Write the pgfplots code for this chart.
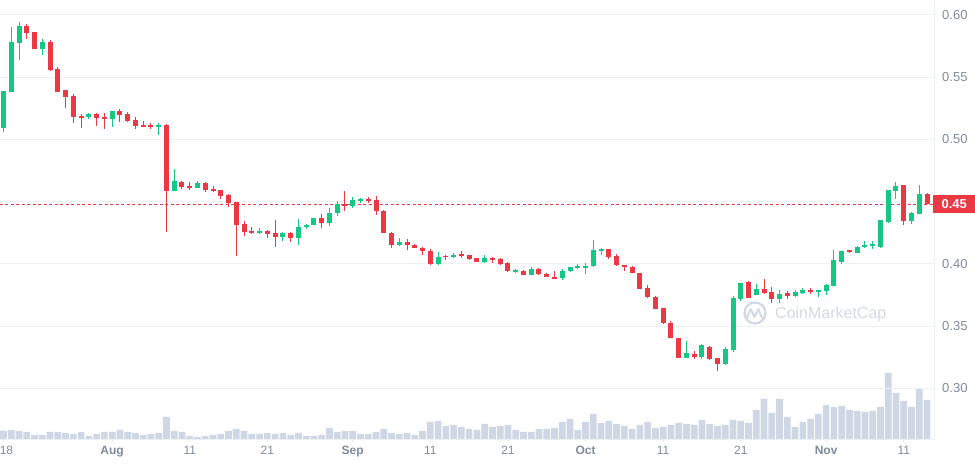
\documentclass[border=0pt]{standalone}
\usepackage{pgfplots}
\pgfplotsset{compat=1.18}
\usepackage{pgfplotstable}
\usepackage{fontspec}
\setmainfont{Liberation Sans}
\definecolor{cmcgreen}{HTML}{16C784}
\definecolor{cmcred}{HTML}{EA3943}
\definecolor{volcol}{HTML}{CFD6E4}
\definecolor{gridcol}{HTML}{EEF1F4}
\definecolor{labcol}{HTML}{808A9D}
\definecolor{wmcol}{HTML}{D3D9E3}

\pgfplotstableread{
d o h l c v
0 0.509 0.539 0.506 0.5386 8.7
1 0.538 0.590 0.538 0.578 9.3
2 0.5775 0.594 0.564 0.591 8.3
3 0.591 0.5925 0.5807 0.5855 7.3
4 0.586 0.586 0.5727 0.5727 4.3
5 0.5727 0.5804 0.5678 0.578 4.3
6 0.578 0.5796 0.555 0.5558 7.3
7 0.5563 0.558 0.538 0.538 7.3
8 0.5394 0.5394 0.5252 0.534 6.3
9 0.5346 0.5362 0.5131 0.518 5.3
10 0.5185 0.520 0.509 0.518 7.3
11 0.518 0.5212 0.5164 0.520 3.3
12 0.520 0.521 0.5107 0.5172 5.3
13 0.518 0.521 0.5086 0.5164 7.3
14 0.5164 0.5225 0.510 0.5225 7.3
15 0.5225 0.5241 0.514 0.5196 9.3
16 0.520 0.5217 0.514 0.5147 7.3
17 0.5153 0.5177 0.5086 0.5107 6.3
18 0.5115 0.5145 0.510 0.5105 4.3
19 0.5115 0.513 0.5086 0.510 5.3
20 0.510 0.513 0.5035 0.5115 6.3
21 0.5115 0.5123 0.4255 0.4584 22.3
22 0.4588 0.4762 0.4588 0.4666 8.3
23 0.4658 0.4666 0.4604 0.4618 7.3
24 0.4626 0.4658 0.4596 0.461 3.3
25 0.461 0.4666 0.461 0.465 2.3
26 0.465 0.4658 0.458 0.4596 3.3
27 0.4604 0.4626 0.458 0.4588 4.3
28 0.4594 0.4594 0.4524 0.4548 5.3
29 0.4554 0.4562 0.446 0.4492 8.3
30 0.4497 0.4497 0.4067 0.4316 10.3
31 0.4321 0.4345 0.4227 0.4259 8.3
32 0.4265 0.4297 0.4241 0.4249 5.3
33 0.425 0.429 0.4238 0.4265 5.3
34 0.4265 0.4273 0.4211 0.4243 6.3
35 0.4249 0.4353 0.4139 0.4219 5.3
36 0.4219 0.4257 0.4187 0.4249 6.3
37 0.4249 0.4257 0.4179 0.4211 4.3
38 0.4211 0.4361 0.4155 0.4297 6.3
39 0.4294 0.4324 0.4278 0.4316 3.3
40 0.431 0.4372 0.431 0.4372 3.3
41 0.4372 0.4404 0.4286 0.4326 4.3
42 0.4326 0.4452 0.4302 0.4412 11.3
43 0.4406 0.4508 0.4382 0.4484 7.3
44 0.4484 0.4588 0.4422 0.4463 8.3
45 0.4463 0.454 0.4447 0.4516 8.3
46 0.4508 0.4532 0.4492 0.4524 5.3
47 0.4524 0.454 0.4492 0.4508 5.3
48 0.4516 0.4548 0.439 0.4422 7.3
49 0.4428 0.4436 0.4246 0.4246 10.3
50 0.4251 0.4259 0.4126 0.415 6.3
51 0.415 0.4211 0.4142 0.4179 5.3
52 0.4179 0.4203 0.411 0.415 6.3
53 0.4155 0.4163 0.4126 0.4126 4.3
54 0.4131 0.4139 0.407 0.4102 8.3
55 0.4107 0.4118 0.3989 0.3997 17.3
56 0.3997 0.4099 0.3989 0.4059 18.3
57 0.4064 0.4075 0.4029 0.4059 13.3
58 0.4054 0.4091 0.4045 0.4075 14.3
59 0.4075 0.4107 0.4045 0.407 12.3
60 0.4072 0.4072 0.4032 0.404 10.3
61 0.4048 0.4048 0.4016 0.4016 9.3
62 0.4016 0.4072 0.4008 0.4048 15.3
63 0.4048 0.4056 0.4008 0.4032 12.3
64 0.404 0.4048 0.3992 0.400 13.3
65 0.4008 0.4016 0.3931 0.3939 14.3
66 0.3939 0.396 0.3928 0.3947 9.3
67 0.3944 0.3952 0.3907 0.3907 7.3
68 0.3907 0.3976 0.3907 0.396 7.3
69 0.396 0.3968 0.3907 0.3915 10.3
70 0.392 0.3928 0.3891 0.3891 10.3
71 0.3897 0.3944 0.3875 0.3883 11.3
72 0.3883 0.396 0.3867 0.3944 17.3
73 0.3939 0.3976 0.3931 0.3976 20.3
74 0.3971 0.3995 0.396 0.3981 9.3
75 0.3973 0.4008 0.3915 0.3984 17.3
76 0.3979 0.4191 0.3971 0.4111 25.3
77 0.4106 0.4127 0.4074 0.4119 16.3
78 0.4119 0.4119 0.4042 0.4058 18.3
79 0.4064 0.408 0.3979 0.3987 15.3
80 0.3992 0.3992 0.394 0.3971 13.3
81 0.3976 0.3984 0.3924 0.3924 10.3
82 0.3929 0.3929 0.3797 0.3797 14.3
83 0.3803 0.3834 0.3724 0.3732 17.3
84 0.3732 0.3742 0.3637 0.3639 11.3
85 0.3645 0.3645 0.3521 0.3526 12.3
86 0.3526 0.3542 0.3403 0.3403 14.3
87 0.3408 0.3408 0.3245 0.3245 16.3
88 0.3245 0.3384 0.3245 0.3282 15.3
89 0.3274 0.3297 0.3237 0.3253 14.3
90 0.3253 0.3353 0.3237 0.3345 19.3
91 0.3329 0.3337 0.3229 0.3237 15.3
92 0.3242 0.3242 0.3142 0.3197 13.3
93 0.3197 0.3329 0.3189 0.3313 14.3
94 0.3305 0.374 0.329 0.3724 19.3
95 0.3718 0.385 0.370 0.385 18.3
96 0.3856 0.3866 0.3726 0.373 16.3
97 0.3747 0.3842 0.3747 0.3802 29.3
98 0.3802 0.3882 0.3762 0.377 40.3
99 0.3778 0.3818 0.3684 0.3722 26.3
100 0.3722 0.3794 0.3684 0.3762 40.3
101 0.377 0.3786 0.3717 0.3746 22.3
102 0.3746 0.3794 0.3738 0.3778 12.3
103 0.377 0.381 0.3762 0.3794 17.3
104 0.3794 0.381 0.3762 0.3778 20.3
105 0.3783 0.3794 0.3738 0.3786 25.3
106 0.3786 0.3842 0.3754 0.3834 34.3
107 0.3826 0.4115 0.3826 0.4032 32.3
108 0.4019 0.4104 0.3995 0.4104 33.3
109 0.411 0.4115 0.4088 0.4096 29.3
110 0.4088 0.4144 0.4088 0.4136 28.3
111 0.4136 0.4187 0.4128 0.4152 27.3
112 0.4149 0.4187 0.412 0.4152 28.3
113 0.4136 0.435 0.4128 0.435 32.3
114 0.4337 0.4596 0.4329 0.4596 66.3
115 0.4588 0.466 0.4524 0.4628 46.3
116 0.4636 0.4636 0.4313 0.4342 38.3
117 0.4342 0.4417 0.4318 0.4409 32.3
118 0.4401 0.4636 0.4401 0.4564 50.3
119 0.4564 0.4572 0.4481 0.4481 39.3
}\candles

\begin{document}
\begin{tikzpicture}
% volume axis
\begin{axis}[at={(0pt,25.7pt)}, anchor=south west, scale only axis,
  width=934pt, height=439.3pt,
  xmin=-0.451, xmax=119.9, ymin=0, ymax=439.3,
  axis lines=none, xtick=\empty, ytick=\empty]
\addplot[ybar, bar width=6.7pt, bar shift=0pt, fill=volcol, draw=none]
  table[x=d, y=v] {\candles};
\end{axis}
% price axis
\begin{axis}[at={(0pt,25.7pt)}, anchor=south west, scale only axis,
  width=934pt, height=439.3pt,
  xmin=-0.451, xmax=119.9, ymin=0.2592, ymax=0.6118,
  axis x line*=bottom, axis y line*=right,
  axis line style={draw=gridcol, line width=0.8pt, -},
  ymajorgrids, grid style={draw=gridcol, line width=0.8pt},
  ytick={0.30,0.35,0.40,0.45,0.50,0.55,0.60},
  yticklabels={0.30,0.35,0.40,,0.50,0.55,0.60},
  ytick style={draw=none},
  yticklabel style={anchor=west, inner sep=0pt, xshift=5pt, text=labcol, font=\fontsize{13}{15}\selectfont},
  xtick={14,24,34,45,55,65,75,85,95,106,116},
  xticklabels={\textbf{Aug},11,21,\textbf{Sep},11,21,\textbf{Oct},11,21,\textbf{Nov},11},
  extra x ticks={0}, extra x tick labels={18},
  extra x tick style={xticklabel style={xshift=3pt}},
  xtick style={draw=gridcol!60!gray!40, line width=0.8pt},
  major tick length=3pt, tick align=outside,
  xticklabel style={anchor=north, inner sep=0pt, yshift=-4pt, text=labcol, font=\fontsize{12}{14}\selectfont},
  clip=true]
% current price line
\addplot[cmcred, line width=1pt, dash pattern=on 3pt off 2.5pt] coordinates {(-0.451,0.448) (119.9,0.448)};
% green wicks and bodies
\addplot[draw=none, mark=none, restrict expr to domain={\thisrow{c}-\thisrow{o}}{0:1},
  error bars/.cd, y dir=both, y explicit, error mark=none,
  error bar style={line width=1pt, draw=cmcgreen}]
  table[x=d, y expr={(\thisrow{h}+\thisrow{l})/2}, y error expr={(\thisrow{h}-\thisrow{l})/2}] {\candles};
\addplot[draw=none, mark=none, restrict expr to domain={\thisrow{c}-\thisrow{o}}{0:1},
  error bars/.cd, y dir=both, y explicit, error mark=none,
  error bar style={line width=5pt, draw=cmcgreen}]
  table[x=d, y expr={(\thisrow{o}+\thisrow{c})/2}, y error expr={max(abs(\thisrow{c}-\thisrow{o})/2,0.0005)}] {\candles};
% red wicks and bodies
\addplot[draw=none, mark=none, restrict expr to domain={\thisrow{c}-\thisrow{o}}{-1:-0.00001},
  error bars/.cd, y dir=both, y explicit, error mark=none,
  error bar style={line width=1pt, draw=cmcred}]
  table[x=d, y expr={(\thisrow{h}+\thisrow{l})/2}, y error expr={(\thisrow{h}-\thisrow{l})/2}] {\candles};
\addplot[draw=none, mark=none, restrict expr to domain={\thisrow{c}-\thisrow{o}}{-1:-0.00001},
  error bars/.cd, y dir=both, y explicit, error mark=none,
  error bar style={line width=5pt, draw=cmcred}]
  table[x=d, y expr={(\thisrow{o}+\thisrow{c})/2}, y error expr={max(abs(\thisrow{c}-\thisrow{o})/2,0.0005)}] {\candles};
\end{axis}
% current price label
\node[anchor=west, fill=cmcred, text=white, minimum width=42pt, minimum height=18pt, inner sep=0pt,
  font=\fontsize{13}{15}\selectfont\bfseries] at (933pt,260.8pt) {0.45};
% watermark
\draw[wmcol, line width=2.3pt] (755pt,152pt) circle (10.5pt);
\draw[wmcol, line width=2pt, line join=round, line cap=round]
  (747pt,147pt) -- (750.5pt,156pt) -- (754.5pt,148pt) -- (758.5pt,156pt) -- (761pt,149pt) -- (764pt,146pt);
\node[anchor=west, inner sep=0pt, text=wmcol, font=\fontsize{16}{18}\selectfont] at (775pt,151pt) {CoinMarketCap};
\pgfresetboundingbox
\useasboundingbox (0,0) rectangle (975pt,465pt);
\end{tikzpicture}
\end{document}
